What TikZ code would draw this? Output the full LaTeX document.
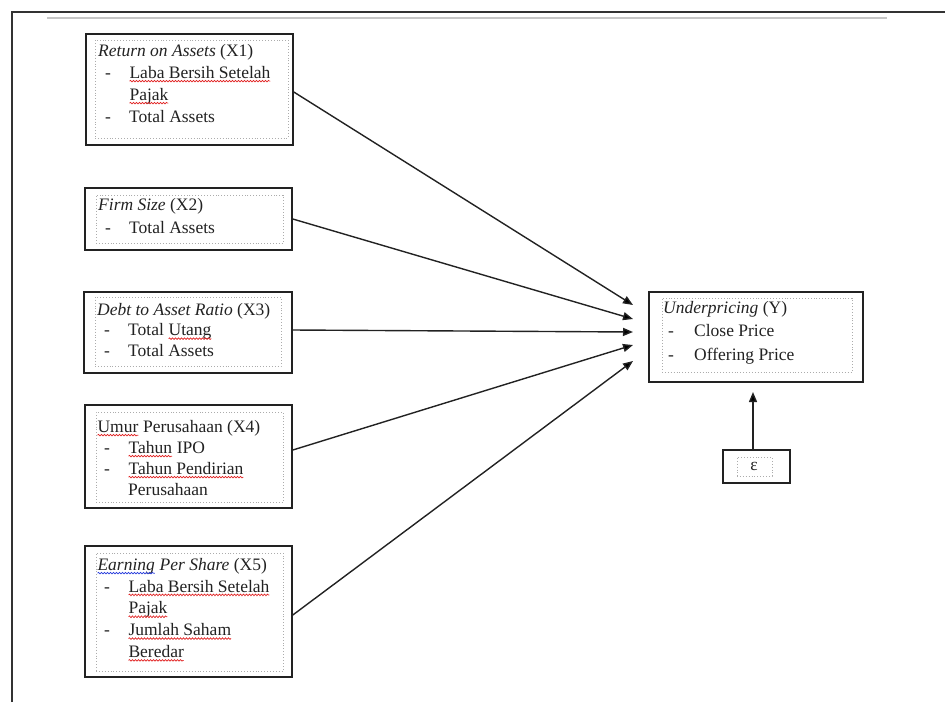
\documentclass[tikz,border=0pt]{standalone}
\usepackage{fontspec}
\setmainfont{Liberation Serif}
\usetikzlibrary{arrows.meta,decorations.pathmorphing,calc}
\definecolor{ink}{HTML}{222222}
\definecolor{frameg}{HTML}{333333}
\definecolor{spell}{RGB}{225,35,35}
\definecolor{gram}{RGB}{40,60,220}
\newcommand\sq[2][spell]{\tikz[baseline=(w.base)]{\node[draw=none,fill=none,inner sep=0pt,outer sep=0pt,anchor=base,align=left](w){#2};\draw[#1,line width=0.7pt,decorate,decoration={snake,amplitude=0.8pt,segment length=3pt}]([yshift=-2.8pt]w.base west)--([yshift=-2.8pt]w.base east);}}
\newcommand\dsh{\makebox[31pt][l]{\hspace*{7pt}-}}
\newcommand\ind{\hspace*{31pt}}
\tikzset{
  obox/.style={draw=ink, line width=1.6pt, inner sep=0pt, fill=none},
  ibox/.style={draw=gray!65, line width=0.9pt, dotted, inner sep=0pt},
  txt/.style={anchor=north west, inner sep=0pt, align=left, text=ink},
  conn/.style={draw=ink, line width=1.4pt, -{Triangle[length=10pt,width=8pt]}},
  frm/.style={draw=frameg, line width=1.6pt},
}
\begin{document}
\begin{tikzpicture}[x=1pt,y=-1pt]
\useasboundingbox (0,0) rectangle (945,702);
% frame
\coordinate (fa) at (12,702);
\coordinate (fb) at (12,12);
\coordinate (fc) at (945,12);
\draw[frm] (fa) -- (fb) -- (fc);
\coordinate (ga) at (47,18);
\coordinate (gb) at (887,18);
\draw[draw=gray!45, line width=1.4pt] (ga) -- (gb);

% X1
\node[obox, minimum width=207pt, minimum height=111pt] (x1) at (189.5,89.5) {};
\node[ibox, minimum width=193pt, minimum height=98pt] (x1i) at (191.5,89) {};
\node[txt, font=\fontsize{17.5}{22}\selectfont] (t1) at (98,44)
  {\textit{Return on Assets} (X1)\\ \dsh\sq{Laba Bersih Setelah}\\ \ind\sq{Pajak}\\ \dsh Total Assets};

% X2
\node[obox, minimum width=207pt, minimum height=62pt] (x2) at (188.5,219) {};
\node[ibox, minimum width=187pt, minimum height=48pt] (x2i) at (189.5,219) {};
\node[txt, font=\fontsize{17.5}{23}\selectfont] (t2) at (98,198)
  {\textit{Firm Size} (X2)\\ \dsh Total Assets};

% X3
\node[obox, minimum width=208pt, minimum height=81pt] (x3) at (188,332.5) {};
\node[ibox, minimum width=186pt, minimum height=69pt] (x3i) at (188,331.5) {};
\node[txt, font=\fontsize{17.5}{20.5}\selectfont] (t3) at (97,303)
  {\textit{Debt to Asset Ratio} (X3)\\ \dsh Total \sq{Utang}\\ \dsh Total Assets};

% X4
\node[obox, minimum width=207pt, minimum height=103pt] (x4) at (188.5,456.5) {};
\node[ibox, minimum width=187pt, minimum height=90pt] (x4i) at (189.5,457) {};
\node[txt, font=\fontsize{17.5}{21}\selectfont] (t4) at (97,420)
  {\sq{Umur} Perusahaan (X4)\\ \dsh\sq{Tahun} IPO\\ \dsh\sq{Tahun Pendirian}\\ \ind Perusahaan};

% X5
\node[obox, minimum width=207pt, minimum height=131pt] (x5) at (188.5,611.5) {};
\node[ibox, minimum width=187pt, minimum height=118pt] (x5i) at (189.5,612) {};
\node[txt, font=\fontsize{17.5}{21.8}\selectfont] (t5) at (97,558)
  {\textit{\sq[gram]{Earning} Per Share} (X5)\\ \dsh\sq{Laba Bersih Setelah}\\ \ind\sq{Pajak}\\ \dsh\sq{Jumlah Saham}\\ \ind\sq{Beredar}};

% Y
\node[obox, minimum width=214pt, minimum height=90pt] (y) at (756,337) {};
\node[ibox, minimum width=190pt, minimum height=74pt] (yi) at (757,335) {};
\node[txt, font=\fontsize{17.5}{23.5}\selectfont] (ty) at (663,301)
  {\textit{Underpricing} (Y)\\ \makebox[31pt][l]{\hspace*{5pt}-}Close Price\\ \makebox[31pt][l]{\hspace*{5pt}-}Offering Price};

% epsilon
\node[obox, minimum width=67pt, minimum height=33pt] (eps) at (756.5,466.5) {};
\node[ibox, minimum width=35pt, minimum height=19pt] (epsi) at (754.5,466.5) {};
\node[inner sep=0pt, text=ink, font=\fontsize{17.5}{20}\selectfont] (te) at (754,466) {ε};

% connectors
\coordinate (e1) at (633,305);
\coordinate (e2) at (633,319);
\coordinate (e3) at (633,332);
\coordinate (e4) at (633,345);
\coordinate (e5) at (633,361);
\coordinate (ey) at (753,392);
\draw[conn] ($(x1.east)+(0,2.5)$) -- (e1);
\draw[conn] (x2.east) -- (e2);
\draw[conn] ($(x3.east)+(0,-2.5)$) -- (e3);
\draw[conn] ($(x4.east)+(0,-6.5)$) -- (e4);
\draw[conn] ($(x5.east)+(0,3.5)$) -- (e5);
\draw[conn] (eps.north -| ey) -- (ey);
\end{tikzpicture}
\end{document}
